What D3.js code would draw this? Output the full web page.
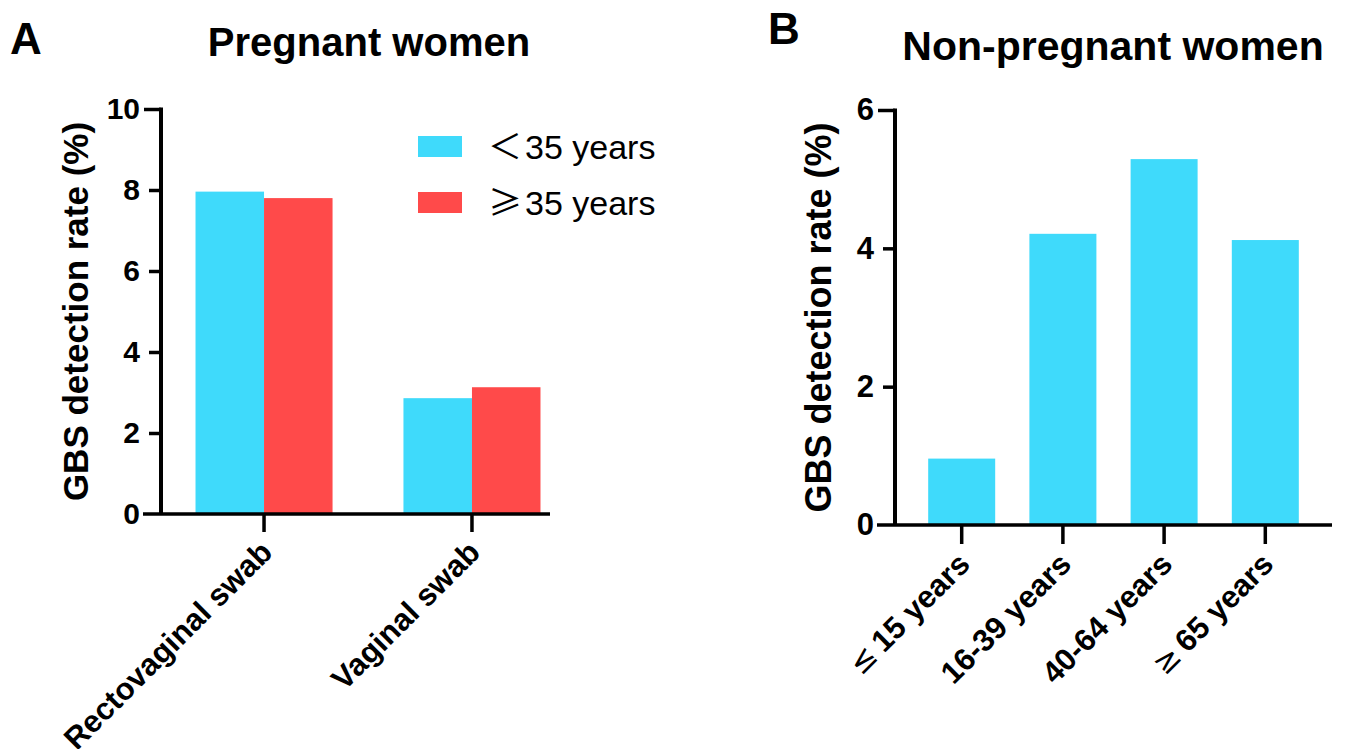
<!DOCTYPE html>
<html>
<head>
<meta charset="utf-8">
<script src="https://cdn.jsdelivr.net/npm/d3@7"></script>
<style>
  body { margin: 0; background: #fff; }
  svg text { font-family: "Liberation Sans", Arial, sans-serif; fill: #000; }
</style>
</head>
<body>
<div id="chart"></div>
<script>
// panel A data
const swabTypes = ["Rectovaginal swab", "Vaginal swab"];
const ageGroupsA = ["＜35 years", "≥35 years"];
const under35 = [7.96, 2.86];
const over35 = [7.80, 3.13];
const ticksA = [0, 2, 4, 6, 8, 10];

// panel B data
const ageGroupsB = ["≤15 years", "16-39 years", "40-64 years", "≥65 years"];
const ratesB = [0.96, 4.21, 5.29, 4.12];
const ticksB = [0, 2, 4, 6];

const cyan = "#3fdafb";
const red = "#ff4a4a";
const colorsA = [cyan, red];

const svg = d3.select("#chart")
  .append("svg")
    .attr("width", 1346)
    .attr("height", 749);

// split a leading comparison sign off so it can get its own (thin) font
function withSymbol(sel, symFont, gap) {
  sel.each(function (d) {
    const t = d3.select(this);
    const s = typeof d === "string" ? d : d.key;
    const first = s.charAt(0);
    if ("≤≥＜".includes(first)) {
      t.text(null);
      t.append("tspan")
        .style("font-family", symFont)
        .style("font-weight", "normal")
        .text(first);
      t.append("tspan").attr("dx", gap || 0).text(s.slice(1));
    }
  });
}

// draws y axis + x baseline in the prism style
function drawAxes(g, y, x, ticks, opt) {
  const yAxis = g.append("g")
    .attr("transform", `translate(${opt.left},0)`)
    .call(d3.axisLeft(y).tickValues(ticks).tickSize(12).tickPadding(9).tickFormat(d3.format("d")));
  yAxis.select(".domain").remove();
  yAxis.selectAll(".tick line")
    .attr("stroke-width", 3.5)
    .attr("x2", d => (d === ticks[ticks.length - 1] ? -17 : -12));
  yAxis.selectAll(".tick line").filter(d => d === 0).remove();
  yAxis.selectAll("text")
    .style("font-size", opt.tickFont + "px")
    .style("font-weight", "bold");

  // vertical axis line
  g.append("line")
    .attr("x1", opt.left).attr("x2", opt.left)
    .attr("y1", y(ticks[ticks.length - 1]) - 1.5).attr("y2", y(0))
    .attr("stroke", "#000").attr("stroke-width", 4);

  // baseline, sticks out left of the y axis
  g.append("line")
    .attr("x1", opt.left - 18).attr("x2", opt.right)
    .attr("y1", y(0)).attr("y2", y(0))
    .attr("stroke", "#000").attr("stroke-width", 3.5);

  const xAxis = g.append("g")
    .attr("transform", `translate(0,${y(0)})`)
    .call(d3.axisBottom(x).tickSize(opt.xTick).tickPadding(0));
  xAxis.select(".domain").remove();
  xAxis.selectAll(".tick line").attr("stroke-width", 3.5);
  xAxis.selectAll("text")
    .attr("x", 0).attr("y", 0).attr("dy", 0)
    .attr("text-anchor", "end")
    .attr("transform", `translate(${opt.labelDx},${opt.xTick + opt.labelDy}) rotate(-45)`)
    .style("font-size", opt.labelFont + "px")
    .style("font-weight", "bold")
    .call(withSymbol, "DejaVu Sans", 6);

  g.append("text")
    .attr("transform", `translate(${opt.titleX},${(y(0) + y(ticks[ticks.length - 1])) / 2}) rotate(-90)`)
    .attr("text-anchor", "middle")
    .style("font-size", opt.titleFont + "px")
    .style("font-weight", "bold")
    .text("GBS detection rate (%)");
}

// ---------- panel A ----------
const gA = svg.append("g");
const yA = d3.scaleLinear().domain([0, 10]).range([514, 109]);
const xA = d3.scaleBand().domain(swabTypes).range([161, 575]).paddingInner(0.341).paddingOuter(0.166);
const xSub = d3.scaleBand().domain(ageGroupsA).range([0, xA.bandwidth()]);

const seriesA = ageGroupsA.map((k, i) => ({ key: k, values: i === 0 ? under35 : over35, color: colorsA[i] }));

gA.selectAll("g.series")
  .data(seriesA)
  .enter()
  .append("g")
    .attr("class", "series")
    .attr("fill", d => d.color)
  .selectAll("rect")
  .data(d => d.values.map((v, j) => ({ key: d.key, cat: swabTypes[j], v: v })))
  .enter()
  .append("rect")
    .attr("x", d => xA(d.cat) + xSub(d.key))
    .attr("width", xSub.bandwidth())
    .attr("y", d => yA(d.v))
    .attr("height", d => yA(0) - yA(d.v));

drawAxes(gA, yA, xA, ticksA, {
  left: 161, right: 550, tickFont: 30, xTick: 18, labelDx: 10, labelDy: 22,
  labelFont: 31, titleX: 88, titleFont: 35
});

// legend
const legend = gA.selectAll("g.legend")
  .data(seriesA)
  .enter()
  .append("g")
    .attr("class", "legend")
    .attr("transform", (d, i) => `translate(418,${136 + i * 56})`);
legend.append("rect")
  .attr("width", 44).attr("height", 21)
  .attr("fill", d => d.color);
legend.append("text")
  .attr("x", 70).attr("y", 11).attr("dy", "0.36em")
  .style("font-size", "34px")
  .text(d => d.key)
  .call(withSymbol, "Noto Sans CJK SC", 3);

gA.append("text").attr("x", 10).attr("y", 54)
  .style("font-size", "44px").style("font-weight", "bold").text("A");
gA.append("text").attr("x", 369).attr("y", 56).attr("text-anchor", "middle")
  .style("font-size", "40px").style("font-weight", "bold").text("Pregnant women");

// ---------- panel B ----------
const gB = svg.append("g");
const yB = d3.scaleLinear().domain([0, 6]).range([525, 110]);
const xB = d3.scaleBand().domain(ageGroupsB).range([895, 1332]).paddingInner(0.338).paddingOuter(0.328);

gB.selectAll("rect")
  .data(ratesB)
  .enter()
  .append("rect")
    .attr("x", (d, i) => xB(ageGroupsB[i]))
    .attr("width", xB.bandwidth())
    .attr("y", d => yB(d))
    .attr("height", d => yB(0) - yB(d))
    .attr("fill", cyan);

drawAxes(gB, yB, xB, ticksB, {
  left: 895, right: 1332, tickFont: 31, xTick: 19, labelDx: 10, labelDy: 22,
  labelFont: 31, titleX: 831, titleFont: 36
});

gB.append("text").attr("x", 768).attr("y", 44)
  .style("font-size", "44px").style("font-weight", "bold").text("B");
gB.append("text").attr("x", 1113).attr("y", 60).attr("text-anchor", "middle")
  .style("font-size", "41px").style("font-weight", "bold").text("Non-pregnant women");
</script>
</body>
</html>
